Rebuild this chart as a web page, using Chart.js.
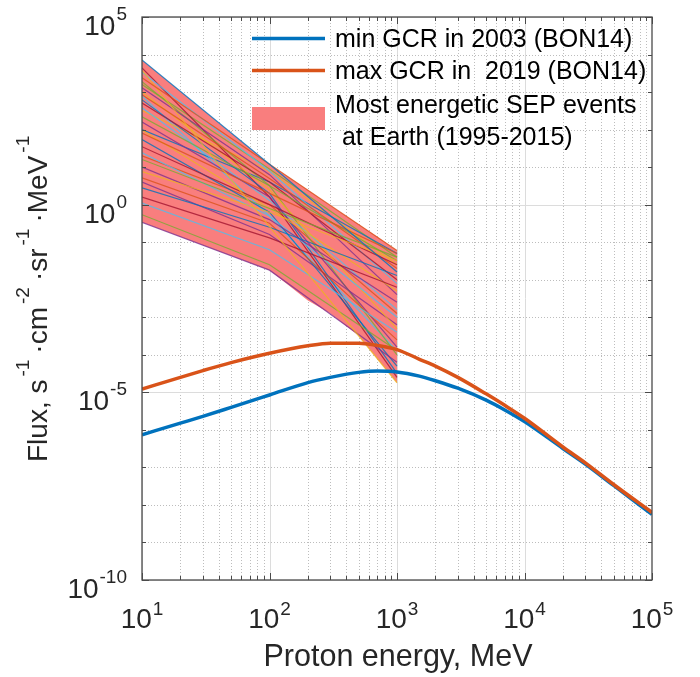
<!DOCTYPE html>
<html lang="en">
<head>
<meta charset="UTF-8">
<title>GCR and SEP proton spectra</title>
<style>
    * { margin: 0; padding: 0; box-sizing: border-box; }
    body { background: #fff; width: 700px; height: 677px; overflow: hidden; }
    .wrap { position: relative; width: 700px; height: 677px; }
</style>
</head>
<body>
<div class="wrap"><canvas id="fluxChart"></canvas></div>
<script src="https://cdn.jsdelivr.net/npm/chart.js"></script>
<script>
// ---- data ----
// GCR proton spectra (BON14), MeV vs flux
const gcrEnergy  = [10, 20, 30, 50, 100, 200, 300, 500, 700, 1000, 1500, 2000, 3000, 5000, 7000, 1e4, 2e4, 3e4, 5e4, 1e5];
const gcrMin2003 = [7.4e-7, 1.51e-6, 2.29e-6, 3.98e-6, 8.5e-6, 1.82e-5, 2.5e-5, 3.4e-5, 3.7e-5, 3.5e-5,
                    2.7e-5, 2.04e-5, 1.29e-5, 6.2e-6, 3.4e-6, 1.66e-6, 3.2e-7, 1.23e-7, 3.3e-8, 5.6e-9];
const gcrMax2019 = [1.23e-5, 2.51e-5, 3.8e-5, 6.2e-5, 1.1e-4, 1.74e-4, 2.04e-4, 2.04e-4, 1.78e-4, 1.38e-4,
                    7.6e-5, 5.0e-5, 2.5e-5, 9.1e-6, 4.5e-6, 2.04e-6, 3.5e-7, 1.32e-7, 3.5e-8, 6.3e-9];

// shaded envelope of the SEP events
const sepBandEnergy = [10, 100, 200, 300, 500, 700, 1000];
const sepBandUpper  = [7.2e3, 12, 2.45, 0.95, 0.30, 0.14, 6.0e-2];
const sepBandLower  = [0.34, 1.8e-2, 2.8e-3, 1.26e-3, 3.2e-4, 7.9e-5, 1.8e-5];

// individual SEP event spectra, flux at 10, 100 and 1000 MeV
const sepEnergy = [10, 100, 1000];
const sepEvents = [
    [7.2e3, 12, 1.6e-2],  [2.4e3, 12, 6.0e-2],   [3.8e3, 0.26, 1.8e-5], [0.34, 1.8e-2, 6.3e-5],
    [0.54, 2.5e-2, 1.3e-4], [1.1, 6.3e-2, 4.0e-4], [1.6, 0.13, 6.3e-3],  [2.8, 0.25, 1.3e-2],
    [5.2, 0.32, 2.5e-4],  [7.6, 0.63, 3.2e-2],   [10, 0.4, 2.5e-3],     [16, 0.79, 4.0e-2],
    [24, 0.5, 1.0e-3],    [35, 1.0, 2.5e-2],     [54, 0.63, 5.0e-5],    [81, 2.0, 5.0e-2],
    [98, 0.79, 5.0e-3],   [160, 1.6, 1.6e-4],    [220, 3.2, 3.2e-2],    [380, 1.3, 1.6e-3],
    [510, 4.0, 1.0e-2],   [620, 2.0, 3.2e-5],    [850, 5.0, 2.0e-2],    [1.0e3, 2.5, 5.0e-4],
    [1.3e3, 6.3, 4.0e-3], [1.9e3, 3.2, 1.0e-4],  [3.4e3, 7.9, 7.9e-3],  [4.4e3, 1.6, 2.5e-5],
    [100, 4.0, 5.0e-2],   [20, 1.0, 1.26e-3],    [320, 7.9, 2.5e-2],    [4.0, 0.16, 6.3e-4],
    [1.6e3, 8.9, 4.0e-2], [790, 0.5, 1.26e-4]
];

// axis labelling
const xTickExps = ['1', '2', '3', '4', '5'];
const yTickExps = ['-10', '-5', '0', '5'];
const legendLabels = ['min GCR in 2003 (BON14)', 'max GCR in  2019 (BON14)',
                      'Most energetic SEP events', ' at Earth (1995-2015)'];

// ---- styling ----
const FONT = "'Liberation Sans', Arial, Helvetica, sans-serif";
const BLUE = '#0072BD';
const ORANGE = '#D95319';
const BAND = '#F97E7E';
const cycle = ['#0072BD', '#D95319', '#EDB120', '#7E2F8E', '#77AC30', '#4DBEEE', '#A2142F'];

function font(px) { return px + 'px ' + FONT; }

function toPoints(xs, ys) {
    return xs.map((e, i) => ({ x: e, y: ys[i] }));
}

function hexAlpha(hex, a) {
    const n = parseInt(hex.slice(1), 16);
    return `rgba(${(n >> 16) & 255},${(n >> 8) & 255},${n & 255},${a})`;
}

// "10" with a raised exponent
function drawPower(ctx, exp, x, y, align, raise) {
    ctx.font = font(28);
    const wBase = ctx.measureText('10').width;
    ctx.font = font(19);
    const wExp = ctx.measureText(exp).width;
    const total = wBase + 1 + wExp;
    const x0 = align === 'center' ? x - total / 2 : x - total;
    ctx.textAlign = 'left';
    ctx.textBaseline = 'alphabetic';
    ctx.font = font(28);
    ctx.fillText('10', x0, y);
    ctx.font = font(19);
    ctx.fillText(exp, x0 + wBase + 1, y - raise);
}

const axesPlugin = {
    id: 'matlabAxes',
    beforeDatasetsDraw(chart) {
        const { ctx, chartArea: a, scales: { x, y } } = chart;
        ctx.save();
        ctx.lineWidth = 1;
        // vertical grid
        for (let e = 1; e <= 4; e++) {
            for (let k = 1; k <= 9; k++) {
                const v = k * Math.pow(10, e);
                const px = Math.round(x.getPixelForValue(v)) + 0.5;
                if (k === 1) { ctx.setLineDash([]); ctx.strokeStyle = '#dcdcdc'; }
                else { ctx.setLineDash([1, 2]); ctx.strokeStyle = '#bdbdbd'; }
                ctx.beginPath(); ctx.moveTo(px, a.top); ctx.lineTo(px, a.bottom); ctx.stroke();
            }
        }
        // horizontal grid
        for (let e = -10; e <= 5; e++) {
            const py = Math.round(y.getPixelForValue(Math.pow(10, e))) + 0.5;
            if (e % 5 === 0) { ctx.setLineDash([]); ctx.strokeStyle = '#dcdcdc'; }
            else { ctx.setLineDash([1, 2]); ctx.strokeStyle = '#bdbdbd'; }
            ctx.beginPath(); ctx.moveTo(a.left, py); ctx.lineTo(a.right, py); ctx.stroke();
        }
        ctx.restore();
    },
    afterDraw(chart) {
        const { ctx, chartArea: a, scales: { x, y } } = chart;
        ctx.save();
        ctx.setLineDash([]);
        ctx.strokeStyle = '#4a4a4a';
        ctx.lineWidth = 1.3;
        ctx.strokeRect(a.left, a.top, a.right - a.left, a.bottom - a.top);

        // tick marks, inward, on all four sides
        ctx.lineWidth = 1;
        ctx.beginPath();
        for (let e = 1; e <= 5; e++) {
            for (let k = 1; k <= 9; k++) {
                if (e === 5 && k > 1) break;
                const px = Math.round(x.getPixelForValue(k * Math.pow(10, e))) + 0.5;
                const len = k === 1 ? 7 : 4;
                ctx.moveTo(px, a.bottom); ctx.lineTo(px, a.bottom - len);
                ctx.moveTo(px, a.top); ctx.lineTo(px, a.top + len);
            }
        }
        for (let e = -10; e <= 5; e++) {
            const py = Math.round(y.getPixelForValue(Math.pow(10, e))) + 0.5;
            const len = e % 5 === 0 ? 7 : 4;
            ctx.moveTo(a.left, py); ctx.lineTo(a.left + len, py);
            ctx.moveTo(a.right, py); ctx.lineTo(a.right - len, py);
        }
        ctx.stroke();

        // tick labels
        ctx.fillStyle = '#262626';
        xTickExps.forEach(exp => {
            const px = x.getPixelForValue(Math.pow(10, Number(exp)));
            drawPower(ctx, exp, px, a.bottom + 48, 'center', 13);
        });
        yTickExps.forEach(exp => {
            const py = y.getPixelForValue(Math.pow(10, Number(exp)));
            drawPower(ctx, exp, a.left - 15, py + 18, 'right', 15);
        });

        // x axis title
        ctx.font = font(30.5);
        ctx.textAlign = 'center';
        ctx.textBaseline = 'alphabetic';
        ctx.fillText('Proton energy, MeV', (a.left + a.right) / 2 + 1, 666);

        // y axis title with superscripts
        const parts = [['Flux, s', 0], ['-1', 1], ['\u00B7cm', 0], ['-2', 1], ['\u00B7sr', 0], ['-1', 1], ['\u00B7MeV', 0], ['-1', 1]];
        ctx.save();
        ctx.translate(47, 462);
        ctx.rotate(-Math.PI / 2);
        ctx.textAlign = 'left';
        let cx = 0;
        parts.forEach(([t, sup]) => {
            ctx.font = font(sup ? 19 : 28);
            if (t.charAt(0) === '\u00B7') cx += 3;
            ctx.fillText(t, cx, sup ? -18 : 0);
            cx += ctx.measureText(t).width + 3;
        });
        ctx.restore();

        // legend
        ctx.lineCap = 'butt';
        ctx.lineWidth = 3.5;
        ctx.strokeStyle = BLUE;
        ctx.beginPath(); ctx.moveTo(252, 38.5); ctx.lineTo(325, 38.5); ctx.stroke();
        ctx.strokeStyle = ORANGE;
        ctx.beginPath(); ctx.moveTo(252, 70.5); ctx.lineTo(325, 70.5); ctx.stroke();
        ctx.fillStyle = BAND;
        ctx.fillRect(252, 107, 73, 23);
        ctx.fillStyle = '#000';
        ctx.font = font(25);
        ctx.textAlign = 'left';
        ctx.fillText(legendLabels[0], 335, 47);
        ctx.fillText(legendLabels[1], 335, 79);
        ctx.fillText(legendLabels[2], 335, 113);
        ctx.fillText(legendLabels[3], 335, 145);
        ctx.restore();
    }
};

const datasets = [
    { label: 'band low', data: toPoints(sepBandEnergy, sepBandLower), showLine: true,
      borderWidth: 0, pointRadius: 0, fill: false, order: 3 },
    { label: 'band high', data: toPoints(sepBandEnergy, sepBandUpper), showLine: true,
      borderWidth: 0, pointRadius: 0, fill: '-1', backgroundColor: BAND, order: 3 }
];

sepEvents.forEach((ev, i) => {
    datasets.push({
        label: 'SEP ' + (i + 1),
        data: toPoints(sepEnergy, ev),
        showLine: true,
        borderColor: hexAlpha(cycle[i % cycle.length], 0.8),
        borderWidth: 1.2,
        pointRadius: 0,
        fill: false,
        order: 2
    });
});

datasets.push({
    label: legendLabels[0], data: toPoints(gcrEnergy, gcrMin2003), showLine: true,
    borderColor: BLUE, borderWidth: 3.5, pointRadius: 0, fill: false,
    cubicInterpolationMode: 'monotone', order: 1
});
datasets.push({
    label: legendLabels[1], data: toPoints(gcrEnergy, gcrMax2019), showLine: true,
    borderColor: ORANGE, borderWidth: 3.5, pointRadius: 0, fill: false,
    cubicInterpolationMode: 'monotone', order: 0
});

new Chart(document.getElementById('fluxChart'), {
    type: 'scatter',
    data: { datasets },
    options: {
        responsive: true,
        maintainAspectRatio: false,
        animation: false,
        devicePixelRatio: 1,
        layout: { padding: { left: 142, top: 17, right: 48, bottom: 97 } },
        plugins: { legend: { display: false }, tooltip: { enabled: false } },
        scales: {
            x: { type: 'logarithmic', min: 10, max: 1e5, display: false },
            y: { type: 'logarithmic', min: 1e-10, max: 1e5, display: false }
        }
    },
    plugins: [axesPlugin]
});
</script>
</body>
</html>
